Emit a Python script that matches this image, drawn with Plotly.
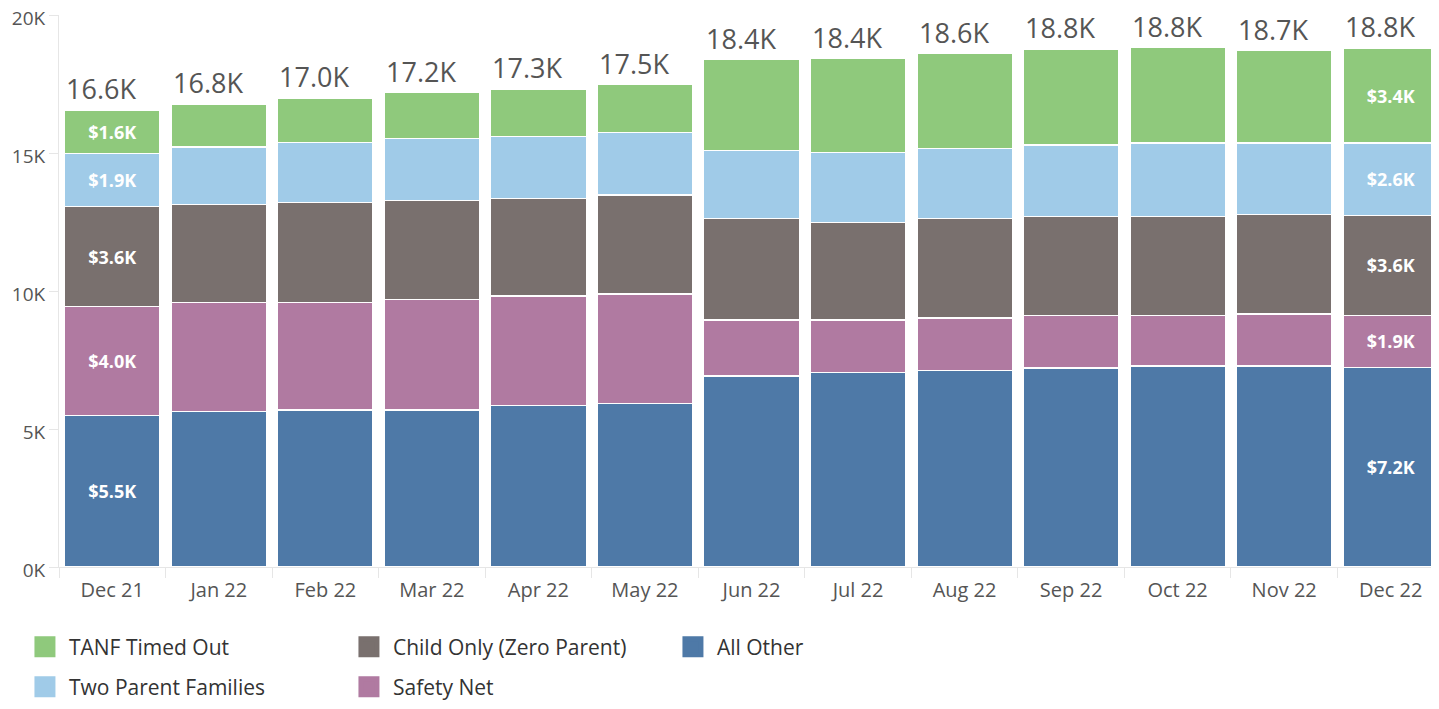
import plotly.graph_objects as go

months = ["Dec 21", "Jan 22", "Feb 22", "Mar 22", "Apr 22", "May 22", "Jun 22",
          "Jul 22", "Aug 22", "Sep 22", "Oct 22", "Nov 22", "Dec 22"]

all_other = [5480, 5620, 5690, 5690, 5840, 5910, 6920, 7060, 7130, 7210, 7280, 7280, 7230]
safety_net = [3960, 3970, 3900, 3990, 3980, 3980, 2030, 1890, 1890, 1890, 1820, 1890, 1890]
child_only = [3610, 3540, 3610, 3590, 3520, 3590, 3680, 3540, 3610, 3600, 3600, 3600, 3620]
two_parent = [1940, 2090, 2180, 2250, 2250, 2260, 2450, 2520, 2520, 2590, 2660, 2590, 2620]
tanf_timed_out = [1570, 1550, 1600, 1660, 1720, 1740, 3300, 3410, 3450, 3480, 3460, 3340, 3440]

y_tick_vals = [0, 5000, 10000, 15000, 20000]
y_tick_text = ["0K", "5K", "10K", "15K", "20K"]

series = [
    ("All Other", all_other, "#4E79A7", "legend"),
    ("Safety Net", safety_net, "#B07AA1", "legend2"),
    ("Child Only (Zero Parent)", child_only, "#79706E", "legend"),
    ("Two Parent Families", two_parent, "#A0CBE8", "legend2"),
    ("TANF Timed Out", tanf_timed_out, "#8FC97C", "legend"),
]

FONT = "Open Sans"
labeled = {0, len(months) - 1}

fig = go.Figure()
for name, vals, color, leg in series:
    texts = [f"${v/1000:.1f}K" if i in labeled else "" for i, v in enumerate(vals)]
    fig.add_trace(go.Bar(
        x=months, y=vals, name=name, showlegend=False,
        marker=dict(color=color, line=dict(color="white", width=1.2)),
        text=texts, textposition="inside", insidetextanchor="middle", textangle=0,
        textfont=dict(family=FONT, size=18, color="white", weight="bold"),
        hoverinfo="x+y+name",
    ))
# legend entries (square swatches)
for name, vals, color, leg in series:
    fig.add_trace(go.Scatter(
        x=[None], y=[None], mode="markers", name=name, legend=leg,
        marker=dict(symbol="square", size=16, color=color, line=dict(color=color, width=5)),
        hoverinfo="skip",
    ))

totals = [sum(s[1][i] for s in series) for i in range(len(months))]
for m, t in zip(months, totals):
    fig.add_annotation(x=m, y=t, text=f"{t/1000:.1f}K", showarrow=False,
                       xanchor="left", yanchor="bottom", xshift=-48, yshift=1,
                       font=dict(family=FONT, size=27, color="#555555"))

legend_common = dict(orientation="h", xref="container", yref="container",
                     x=0.009, xanchor="left", yanchor="middle",
                     entrywidth=271, entrywidthmode="pixels", itemwidth=38,
                     traceorder="reversed",
                     font=dict(family=FONT, size=21, color="#333333"))

fig.update_layout(
    width=1439, height=709,
    barmode="stack", bargap=0.105,
    plot_bgcolor="white", paper_bgcolor="white",
    margin=dict(l=51, r=3, t=7, b=150, autoexpand=False),
    font=dict(family=FONT, color="#555555"),
    legend=dict(y=0.0987, **legend_common),
    legend2=dict(y=0.0423, **legend_common),
)
fig.update_xaxes(showgrid=False, showline=True, linecolor="#e6e6e6", linewidth=1,
                 ticks="outside", tickson="boundaries", ticklen=10, tickcolor="#e6e6e6",
                 ticklabelstandoff=5, automargin=False,
                 tickfont=dict(family=FONT, size=20, color="#555555"))
fig.update_yaxes(range=[0, 20000], showgrid=False, zeroline=False, showline=True,
                 linecolor="#e6e6e6", linewidth=1, ticks="outside", ticklen=9,
                 tickcolor="#e6e6e6", tickvals=y_tick_vals, ticktext=y_tick_text,
                 ticklabeloverflow="allow", automargin=False, ticklabelshift=3,
                 tickfont=dict(family=FONT, size=19, color="#555555"))

fig.write_html("out.html")
